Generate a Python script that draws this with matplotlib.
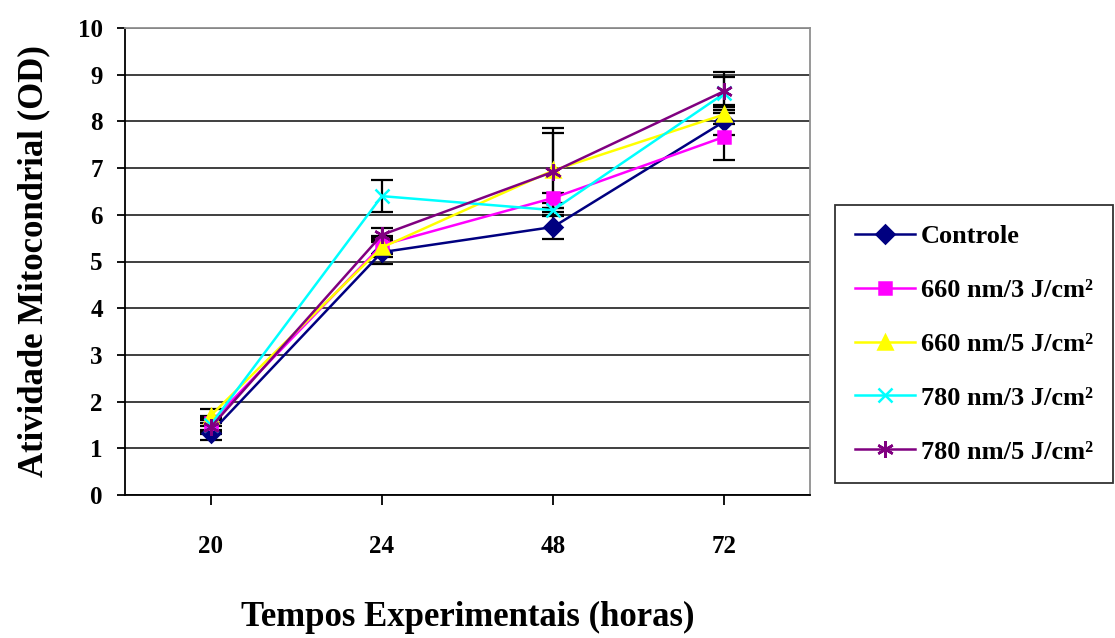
import numpy as np
import matplotlib
matplotlib.use("Agg")
import matplotlib.pyplot as plt

# dados
tempos = ["20", "24", "48", "72"]
controle = [1.33, 5.2, 5.74, 8.0]
nm660_3 = [1.55, 5.35, 6.36, 7.67]
nm660_5 = [1.7, 5.3, 6.95, 8.15]
nm780_3 = [1.5, 6.4, 6.1, 8.6]
nm780_5 = [1.45, 5.57, 6.92, 8.65]

err_controle = [0.15, 0.25, 0.26, 0.3]
err_660_3 = [0.15, 0.2, 0.11, 0.5]
err_660_5 = [0.15, 0.2, 0.8, 0.2]
err_780_3 = [0.15, 0.35, 0.05, 0.35]
err_780_5 = [0.15, 0.15, 0.94, 0.4]

plt.rcParams["font.family"] = ["Liberation Serif", "DejaVu Serif"]
plt.rcParams["font.weight"] = "bold"

fig = plt.figure(figsize=(11.15, 6.38), dpi=100)
ax = fig.add_axes([125 / 1115, 1 - 495 / 638, 685 / 1115, 467 / 638])

x = np.arange(len(tempos))
series = [
    (controle, err_controle, "Controle", "#000080", "D", 9),
    (nm660_3, err_660_3, "660 nm/3 J/cm²", "#FF00FF", "s", 9),
    (nm660_5, err_660_5, "660 nm/5 J/cm²", "#FFFF00", "^", 10),
    (nm780_3, err_780_3, "780 nm/3 J/cm²", "#00FFFF", "x", 10),
    (nm780_5, err_780_5, "780 nm/5 J/cm²", "#800080", (6, 2, 0), 12),
]

for vals, errs, nome, cor, mk, ms in series:
    ax.errorbar(x, vals, yerr=errs, fmt="none", ecolor="black", elinewidth=1.6,
                capsize=8, capthick=1.6, zorder=2)
    ax.plot(x, vals, color=cor, marker=mk, markersize=ms, linewidth=1.8,
            markeredgewidth=1.8, label=nome, zorder=3)

ax.set_xlim(-0.5, 3.5)
ax.set_ylim(0, 10)
ax.set_yticks(range(0, 11))
ax.set_xticks(x)
ax.set_xticklabels(tempos)
ax.tick_params(axis="x", length=7, width=1.3, direction="out", pad=22, labelsize=18)
ax.tick_params(axis="y", length=6, width=1.3, direction="out", pad=10, labelsize=18)
for lab in ax.get_xticklabels() + ax.get_yticklabels():
    lab.set_fontweight("bold")

ax.yaxis.grid(True, color="#303030", linewidth=1.3)
ax.set_axisbelow(True)
ax.spines["top"].set_color("#909090")
ax.spines["right"].set_color("#909090")
ax.spines["top"].set_linewidth(1.3)
ax.spines["right"].set_linewidth(1.3)
ax.spines["left"].set_linewidth(1.3)
ax.spines["bottom"].set_linewidth(1.3)

ax.set_ylabel("Atividade Mitocondrial (OD)", fontsize=25, fontweight="bold", labelpad=20)
ax.set_xlabel("Tempos Experimentais (horas)", fontsize=25, fontweight="bold", labelpad=31)

leg = ax.legend(loc="upper left", bbox_to_anchor=(835 / 1115, 1 - 205 / 638),
                bbox_transform=fig.transFigure, frameon=True, fancybox=False,
                edgecolor="black", prop={"size": 19, "weight": "bold"},
                handlelength=2.3, labelspacing=1.15, borderpad=0.75,
                handletextpad=0.2, borderaxespad=0)
leg.get_frame().set_linewidth(1.3)

fig.savefig("out.png", dpi=100)
